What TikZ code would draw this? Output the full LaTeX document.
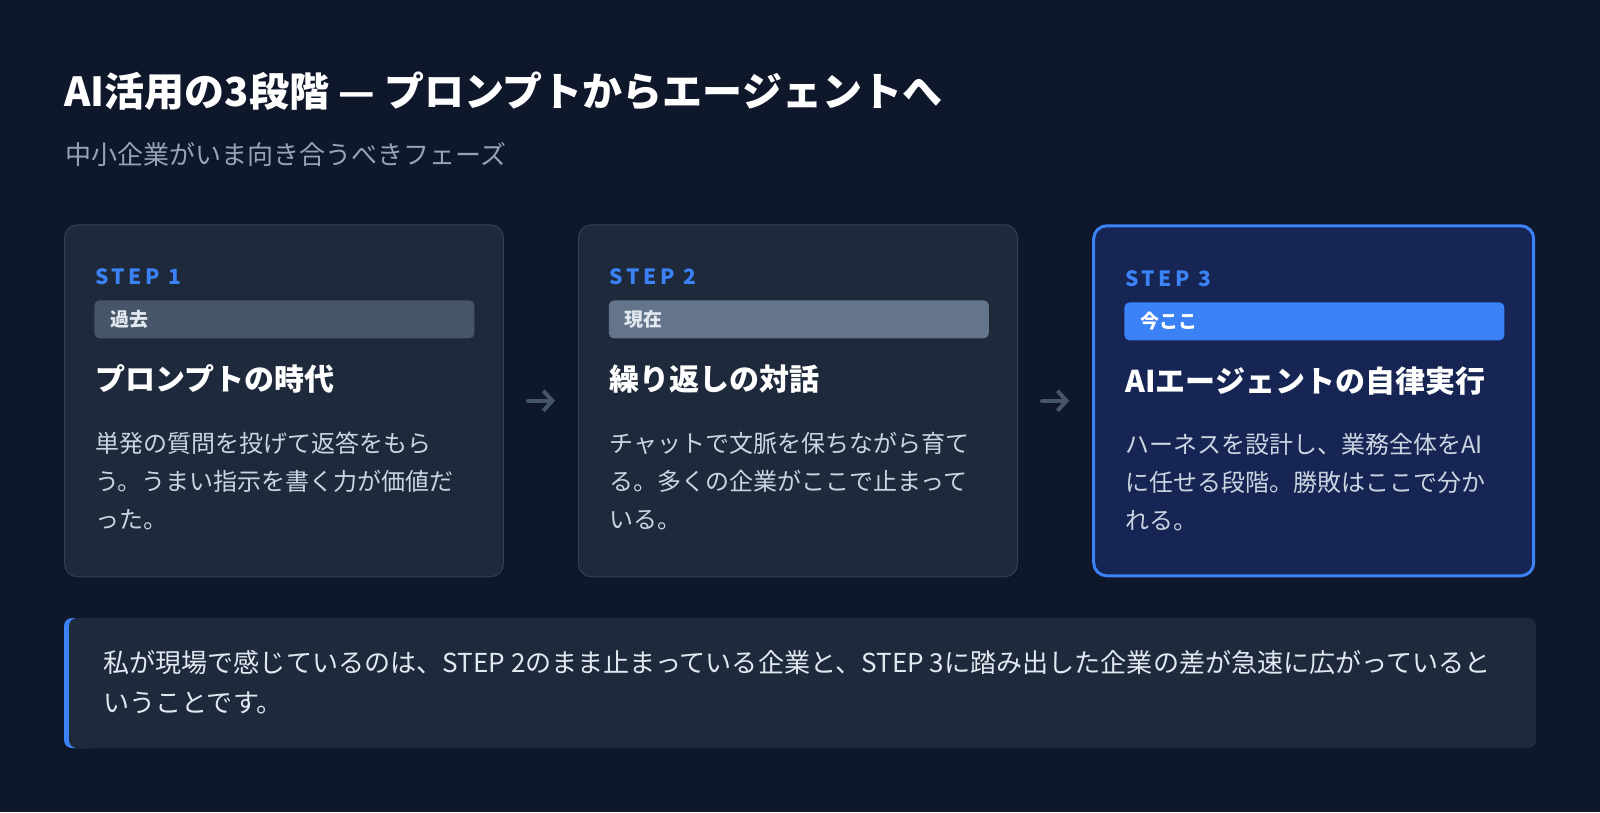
\documentclass[tikz,border=0pt]{standalone}
\usepackage{fontspec}
\setmainfont{Noto Sans CJK JP}
\usetikzlibrary{arrows.meta}

\definecolor{pagebg}{HTML}{0F172A}
\definecolor{cardfill}{HTML}{1E293B}
\definecolor{cardline}{HTML}{334155}
\definecolor{nowfill}{HTML}{172554}
\definecolor{accent}{HTML}{3B82F6}
\definecolor{pastbadge}{HTML}{475569}
\definecolor{curbadge}{HTML}{64748B}
\definecolor{subgray}{HTML}{94A3B8}
\definecolor{bodygray}{HTML}{CBD5E1}
\definecolor{notetext}{HTML}{E2E8F0}
\definecolor{arrowgray}{HTML}{475569}

\tikzset{every picture/.style={line width=0.75pt}}
\tikzset{
  card/.style={draw=cardline, fill=cardfill, line width=1pt, rounded corners=13pt, minimum width=439pt, minimum height=352pt, inner sep=0pt},
  nowcard/.style={card, draw=accent, fill=nowfill, line width=3pt, minimum width=440pt, minimum height=350pt},
  steplbl/.style={anchor=base west, inner sep=0pt, text=accent, font=\fontsize{21}{21}\selectfont\bfseries\addfontfeature{LetterSpace=17}},
  badge/.style={anchor=north west, inner xsep=16pt, inner ysep=0pt, text width=348pt, align=left, minimum height=38pt, rounded corners=5pt, text=notetext, font=\fontsize{19}{19}\selectfont\bfseries},
  cardhead/.style={anchor=base west, inner sep=0pt, text=white, font=\fontsize{30}{30}\selectfont\bfseries},
  cardbody/.style={anchor=base west, inner sep=0pt, align=left, text=bodygray, font=\fontsize{24}{38.3}\selectfont},
  flow/.style={draw=arrowgray, line width=4pt, line cap=round, line join=round, -{Straight Barb[length=9pt, width=20pt]}, shorten <=24pt, shorten >=23pt},
}

\begin{document}
\begin{tikzpicture}[x=1pt,y=1pt,yscale=-1,xscale=1]
		%Background
		\fill[pagebg] (0,0) rectangle (1600,812);
		\useasboundingbox (0,0) rectangle (1600,812);

		% Text Node
		\node[anchor=base west, inner sep=0pt, text=white, font=\fontsize{40}{40}\selectfont\bfseries] (title) at (64,106) {AI活用の3段階 — プロンプトからエージェントへ};
		% Text Node
		\node[anchor=base west, inner sep=0pt, text=subgray, font=\fontsize{26}{26}\selectfont] (sub) at (65,164) {中小企業がいま向き合うべきフェーズ};

		%Shape: Cards
		\node[card] (c1) at (284,400.8) {};
		\node[card] (c2) at (798,400.8) {};
		\node[nowcard] (c3) at (1313.7,400.8) {};

		%Straight Lines
		\draw[flow] (c1.east) -- (c2.west);
		\draw[flow] (c2.east) -- (c3.west);

		% Text Node
		\node[steplbl] (s1) at (95,284) {STEP 1};
		\node[badge, fill=pastbadge] (b1) at (94,300) {過去};
		\node[cardhead] (h1) at (95,390) {プロンプトの時代};
		\node[cardbody] (d1) at (95,528.6) {単発の質問を投げて返答をもら\\う。うまい指示を書く力が価値だ\\った。};

		% Text Node
		\node[steplbl] (s2) at (609.5,284) {STEP 2};
		\node[badge, fill=curbadge] (b2) at (608.5,300) {現在};
		\node[cardhead] (h2) at (609.5,390) {繰り返しの対話};
		\node[cardbody] (d2) at (609.5,528.6) {チャットで文脈を保ちながら育て\\る。多くの企業がここで止まって\\いる。};

		% Text Node
		\node[steplbl] (s3) at (1125,286) {STEP 3};
		\node[badge, fill=accent, text=white] (b3) at (1124,302) {今ここ};
		\node[cardhead] (h3) at (1125,392) {AIエージェントの自律実行};
		\node[cardbody] (d3) at (1125,529.6) {ハーネスを設計し、業務全体をAI\\に任せる段階。勝敗はここで分か\\れる。};

		%Shape: Note box
		\fill[accent, rounded corners=8pt] (64,618) rectangle (100,748);
		\node[fill=cardfill, rounded corners=8pt, inner sep=0pt, minimum width=1467pt, minimum height=130pt] (note) at (802.5,683) {};
		% Text Node
		\node[anchor=base west, inner sep=0pt, align=left, text=notetext, font=\fontsize{26.1}{40}\selectfont] (nt) at (103,712.4) {私が現場で感じているのは、STEP 2のまま止まっている企業と、STEP 3に踏み出した企業の差が急速に広がっていると\\いうことです。};

\end{tikzpicture}
\end{document}
